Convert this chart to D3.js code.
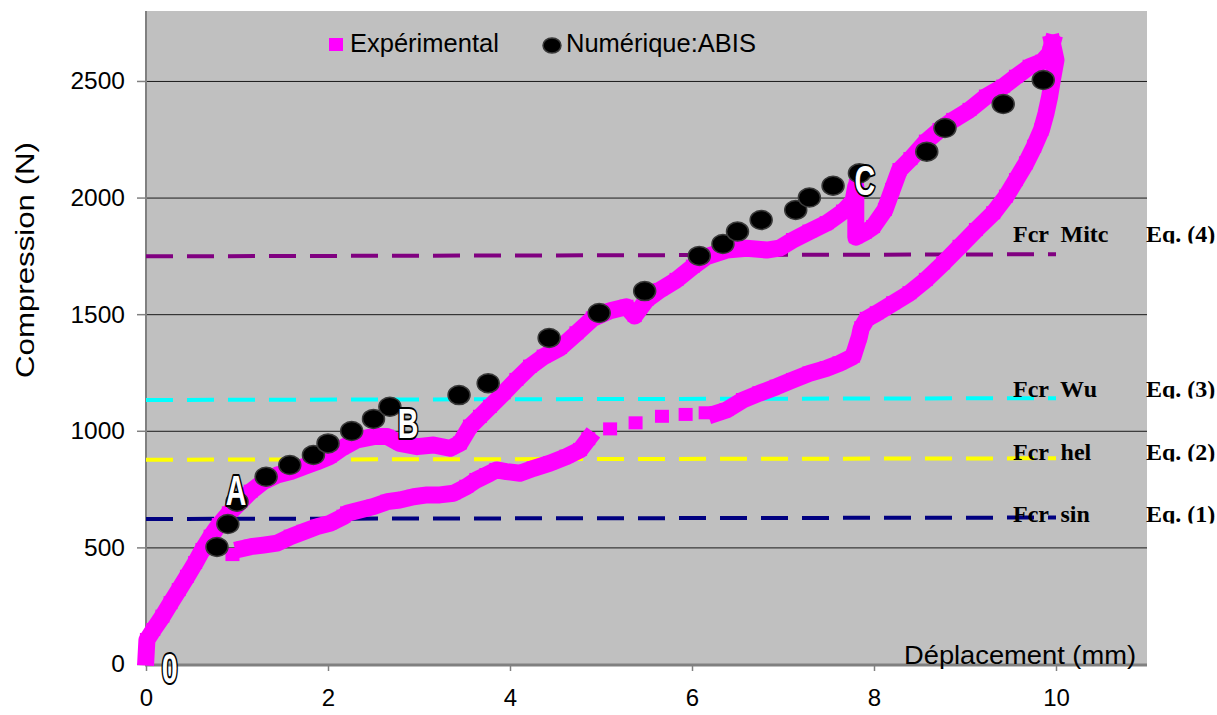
<!DOCTYPE html>
<html><head><meta charset="utf-8">
<script src="https://cdn.jsdelivr.net/npm/d3@7"></script>
<style>html,body{margin:0;padding:0;background:#fff;} svg{display:block;} text{white-space:pre;}</style>
</head><body><svg id="c" width="1217" height="715"></svg>
<script>
// ---------- data ----------
const xTicks = [0, 2, 4, 6, 8, 10];
const yTicks = [0, 500, 1000, 1500, 2000, 2500];

// Experimental (dense band, loading branch)
const expLoading = [
 [0.00,30],[0.01,103],[0.08,146],[0.18,203],[0.27,261],[0.36,317],[0.45,374],[0.54,433],
 [0.62,489],[0.71,546],[0.80,596],[0.91,646],[1.04,696],[1.15,739],[1.29,782],[1.44,810],
 [1.59,825],[1.73,846],[1.88,867],[2.02,889],[2.15,925],[2.32,961],[2.50,975],[2.65,975],
 [2.79,946],[2.98,932],[3.16,939],[3.34,925],[3.45,946],[3.56,1018],[3.67,1060],[3.78,1103],
 [3.93,1161],[4.07,1218],[4.22,1275],[4.37,1318],[4.55,1355],[4.73,1418],[4.91,1482],[5.10,1515],
 [5.28,1532],[5.37,1492],[5.50,1561],[5.65,1604],[5.83,1647],[6.01,1704],[6.16,1747],[6.38,1775],
 [6.60,1783],[6.82,1775],[6.96,1783],[7.11,1818],[7.29,1854],[7.48,1890],[7.66,1940],[7.77,1985],
 [7.80,2050],[7.80,1940],[7.80,1830],[7.90,1850],[7.99,1874],[8.12,1947],[8.20,2033],[8.28,2118],
 [8.40,2165],[8.57,2240],[8.72,2290],[8.87,2333],[9.05,2376],[9.23,2433],[9.42,2476],[9.56,2518],
 [9.71,2561],[9.85,2583],[9.93,2619],[9.96,2662]
];
// Experimental (dense band, unloading branch)
const expUnloading = [
 [9.96,2662],[10.00,2590],[9.96,2504],[9.93,2433],[9.89,2361],[9.84,2290],[9.76,2218],[9.67,2147],
 [9.56,2075],[9.45,2004],[9.31,1933],[9.12,1861],[8.94,1789],[8.76,1718],[8.57,1647],[8.39,1590],
 [8.21,1547],[8.03,1504],[7.92,1480],[7.86,1440],[7.84,1404],[7.77,1318],[7.62,1289],[7.48,1268],
 [7.29,1246],[7.11,1218],[6.93,1189],[6.74,1161],[6.56,1132],[6.38,1089],[6.27,1075]
];
// Experimental (dense band, lower branch)
const expLower = [
 [4.86,964],[4.77,918],[4.62,889],[4.44,861],[4.26,839],[4.11,818],[3.96,825],[3.85,832],
 [3.74,810],[3.63,789],[3.52,760],[3.38,732],[3.23,725],[3.09,725],[2.94,717],[2.79,703],
 [2.65,696],[2.50,675],[2.35,660],[2.21,646],[2.17,632],[2.02,603],[1.88,589],[1.73,567],
 [1.59,546],[1.44,518],[1.29,510],[1.15,503],[1.07,496]
];
// Experimental (isolated points)
const expIsolated = [[6.15,1075],[5.93,1068],[5.67,1060],[5.38,1032],[5.10,1006],[0.95,467]];

// Numerical (ABIS)
const numX = [0.78,0.90,1.00,1.32,1.58,1.84,2.00,2.26,2.50,2.68,3.44,3.76,4.43,4.98,5.48,
              6.08,6.34,6.50,6.76,7.14,7.29,7.55,7.84,8.58,8.78,9.42,9.86];
const numY = [502,600,696,803,853,896,946,999,1051,1103,1153,1204,1398,1505,1599,
              1750,1801,1854,1904,1947,2000,2051,2104,2197,2298,2401,2504];

// Critical load lines (value at x=0 and x=10)
const fcrNames = ["Fcr  sin", "Fcr  hel", "Fcr  Wu", "Fcr  Mitc"];
const fcrEq = ["Eq. (1)", "Eq. (2)", "Eq. (3)", "Eq. (4)"];
const fcrStart = [622, 876, 1132, 1748];
const fcrEnd = [628, 882, 1140, 1757];

const legendLabels = ["Expérimental", "Numérique:ABIS"];
const annotLabels = ["0", "A", "B", "C"];
const annotX = [0.26, 0.99, 2.88, 7.90];
const annotY = [-81, 682, 969, 2011];

// ---------- drawing ----------
const svg = d3.select("#c");
const W = 1217, H = 715;
const L = 146, R = 1147, T = 11, B = 664;
const x = d3.scaleLinear().domain([0, 11]).range([L, R]);
const y = d3.scaleLinear().domain([0, 2800]).range([B, T]);
const PINK = "#ff00ff";
const fcrColors = ["#000080", "#ffff00", "#00ffff", "#800080"];

svg.append("rect").attr("x", 0).attr("y", 0).attr("width", W).attr("height", H).attr("fill", "#fff");
svg.append("rect").attr("x", L).attr("y", T).attr("width", R - L).attr("height", B - T).attr("fill", "#c0c0c0");

// gridlines
svg.append("g").selectAll("line").data(yTicks.filter(d => d > 0)).join("line")
  .attr("x1", L).attr("x2", R).attr("y1", d => y(d) + 0.5).attr("y2", d => y(d) + 0.5)
  .attr("stroke", "#1a1a1a").attr("stroke-width", 1);

// y axis
const yAxis = svg.append("g").attr("transform", `translate(${L},0)`)
  .call(d3.axisLeft(y).tickValues(yTicks).tickSize(9).tickPadding(12).tickFormat(d3.format("d")));
yAxis.select(".domain").remove();
yAxis.selectAll(".tick line").attr("stroke", "#808080").attr("stroke-width", 1.5);
yAxis.selectAll("text").attr("font-family", "Liberation Sans, Arial, sans-serif").attr("font-size", 24.5).attr("fill", "#000");
svg.append("line").attr("x1", L).attr("x2", L).attr("y1", T).attr("y2", B + 1).attr("stroke", "#808080").attr("stroke-width", 2);

// x axis
const xAxis = svg.append("g").attr("transform", `translate(0,${B})`)
  .call(d3.axisBottom(x).tickValues(xTicks).tickSize(7).tickPadding(18).tickFormat(d3.format("d")));
xAxis.select(".domain").remove();
xAxis.selectAll(".tick line").attr("stroke", "#808080").attr("stroke-width", 1.5);
xAxis.selectAll("text").attr("font-family", "Liberation Sans, Arial, sans-serif").attr("font-size", 24).attr("fill", "#000");
svg.append("line").attr("x1", L - 1).attr("x2", R).attr("y1", B + 1).attr("y2", B + 1).attr("stroke", "#808080").attr("stroke-width", 3);

// axis titles
svg.append("text").attr("transform", `translate(34,260) rotate(-90)`)
  .attr("text-anchor", "middle").attr("font-family", "Liberation Sans, Arial, sans-serif")
  .attr("font-size", 26).attr("textLength", 236).attr("lengthAdjust", "spacingAndGlyphs")
  .text("Compression (N)");
svg.append("text").attr("x", 904).attr("y", 664)
  .attr("font-family", "Liberation Sans, Arial, sans-serif").attr("font-size", 25)
  .attr("textLength", 232).attr("lengthAdjust", "spacingAndGlyphs").text("Déplacement (mm)");

// critical load dashed lines
const fcrG = svg.append("g");
fcrNames.forEach((n, i) => {
  fcrG.append("line").attr("x1", x(0)).attr("x2", x(10))
    .attr("y1", y(fcrStart[i])).attr("y2", y(fcrEnd[i]))
    .attr("stroke", fcrColors[i]).attr("stroke-width", 4).attr("stroke-dasharray", "27 14");
});

// experimental series
const line = d3.line().x(d => x(d[0])).y(d => y(d[1]));
const expG = svg.append("g");
[expLoading, expUnloading, expLower].forEach(arr => {
  expG.append("path").attr("d", line(arr)).attr("fill", "none").attr("stroke", PINK)
    .attr("stroke-width", 17).attr("stroke-linejoin", "round").attr("stroke-linecap", "square");
});
const allExp = [].concat(expLoading, expUnloading, expLower, expIsolated);
expG.selectAll("rect").data(allExp).join("rect")
  .attr("x", d => x(d[0]) - 7).attr("y", d => y(d[1]) - 7).attr("width", 14).attr("height", 13).attr("fill", PINK);

// numerical series
svg.append("g").selectAll("ellipse").data(numX.map((v, i) => [v, numY[i]])).join("ellipse")
  .attr("cx", d => x(d[0])).attr("cy", d => y(d[1])).attr("rx", 11).attr("ry", 9.5)
  .attr("fill", "#000").attr("stroke", "#3a3a3a").attr("stroke-width", 1.5);

// critical load labels
const labBase = [522, 460, 397, 242];
const defs = svg.append("defs");
fcrNames.forEach((n, i) => {
  defs.append("clipPath").attr("id", "cl" + i).append("rect")
    .attr("x", 1000).attr("y", labBase[i] - 30).attr("width", 217).attr("height", 31.5);
  const g = svg.append("g").attr("clip-path", `url(#cl${i})`)
    .attr("font-family", "Liberation Serif, Times New Roman, serif").attr("font-weight", "bold").attr("font-size", 24);
  g.append("text").attr("x", 1013).attr("y", labBase[i]).text(n);
  g.append("text").attr("x", 1146).attr("y", labBase[i]).text(fcrEq[i]);
});

// legend
svg.append("rect").attr("x", 329).attr("y", 38).attr("width", 14).attr("height", 13).attr("fill", PINK);
svg.append("text").attr("x", 350).attr("y", 52).attr("font-family", "Liberation Sans, Arial, sans-serif")
  .attr("font-size", 25.5).text(legendLabels[0]);
svg.append("ellipse").attr("cx", 552).attr("cy", 45.5).attr("rx", 9).attr("ry", 7.5)
  .attr("fill", "#000").attr("stroke", "#3a3a3a").attr("stroke-width", 1.5);
svg.append("text").attr("x", 566).attr("y", 52).attr("font-family", "Liberation Sans, Arial, sans-serif")
  .attr("font-size", 25.5).text(legendLabels[1]);

// annotation letters
annotLabels.forEach((t, i) => {
  svg.append("text").attr("transform", `translate(${x(annotX[i])},${y(annotY[i])}) scale(0.68,1)`)
    .attr("text-anchor", "middle").attr("font-family", "Liberation Sans, Arial, sans-serif")
    .attr("font-weight", "bold").attr("font-size", 42)
    .attr("fill", "#fff").attr("stroke", "#000").attr("stroke-width", 4)
    .attr("paint-order", "stroke").attr("stroke-linejoin", "round").text(t);
});
</script></body></html>
